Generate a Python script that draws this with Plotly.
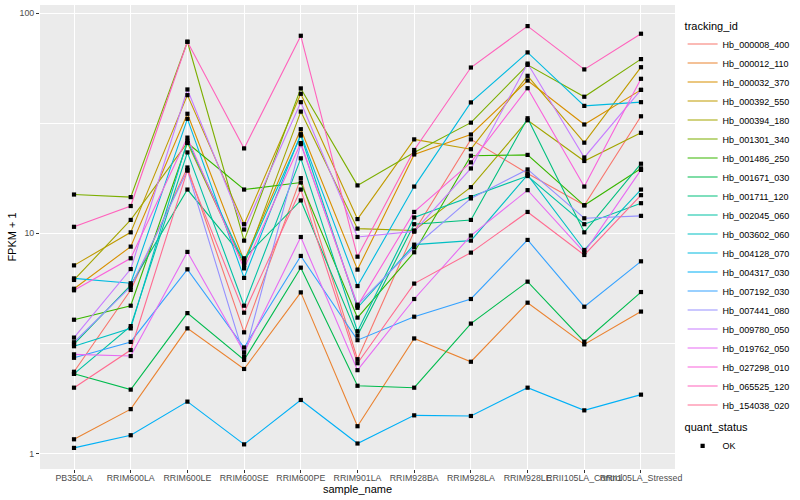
import math
import plotly.graph_objects as go

sample_names = ["PB350LA", "RRIM600LA", "RRIM600LE", "RRIM600SE", "RRIM600PE",
                "RRIM901LA", "RRIM928BA", "RRIM928LA", "RRIM928LE",
                "RRII105LA_Control", "RRII105LA_Stressed"]

hb_000008_400 = [2.35, 5.53, 19.9, 3.55, 17.8, 2.68, 10.2, 26.7, 18.7, 13.4, 34.0]
hb_000012_110 = [1.16, 1.59, 3.70, 2.42, 5.39, 1.33, 3.33, 2.61, 4.84, 3.13, 4.41]
hb_000032_370 = [5.60, 8.70, 34.9, 7.51, 29.7, 6.84, 22.8, 28.1, 49.4, 31.2, 44.8]
hb_000392_550 = [7.15, 10.1, 42.4, 11.0, 43.0, 11.6, 26.7, 24.1, 51.9, 25.8, 56.8]
hb_000394_180 = [6.14, 11.5, 25.8, 7.18, 35.7, 10.5, 10.3, 16.2, 32.6, 21.3, 28.6]
hb_001301_340 = [15.0, 14.6, 74.1, 9.26, 45.5, 16.5, 23.3, 31.8, 58.2, 41.7, 61.8]
hb_001486_250 = [4.05, 4.69, 25.7, 15.8, 17.0, 4.14, 8.20, 22.5, 22.7, 13.4, 19.7]
hb_001671_030 = [2.30, 1.95, 4.34, 2.66, 6.98, 2.03, 1.99, 3.89, 6.03, 3.22, 5.41]
hb_001711_120 = [3.14, 5.82, 15.8, 7.70, 14.1, 3.43, 11.0, 11.5, 33.3, 10.1, 20.7]
hb_002045_060 = [2.30, 3.79, 23.3, 4.69, 21.9, 3.59, 11.8, 14.6, 18.2, 11.0, 13.7]
hb_003602_060 = [3.07, 3.70, 26.3, 7.36, 27.8, 4.59, 8.88, 9.26, 18.4, 8.40, 15.8]
hb_004128_070 = [6.24, 5.93, 33.1, 6.27, 28.2, 5.76, 16.3, 39.3, 66.3, 37.9, 39.4]
hb_004317_030 = [1.06, 1.21, 1.72, 1.10, 1.75, 1.11, 1.49, 1.48, 1.99, 1.57, 1.85]
hb_007192_030 = [2.72, 3.21, 6.86, 3.03, 7.89, 3.27, 4.18, 5.03, 9.33, 4.64, 7.46]
hb_007441_080 = [3.20, 5.72, 19.3, 2.76, 25.4, 4.74, 8.64, 14.4, 19.5, 11.7, 12.0]
hb_009780_050 = [3.36, 6.88, 45.0, 10.4, 39.4, 9.62, 10.2, 19.7, 59.0, 22.1, 44.8]
hb_019762_050 = [2.82, 2.77, 8.23, 2.88, 9.62, 2.39, 5.03, 9.76, 15.7, 8.20, 19.4]
hb_027298_010 = [5.51, 7.70, 27.2, 6.93, 25.7, 4.68, 12.5, 21.0, 45.6, 16.3, 50.3]
hb_065525_120 = [10.7, 13.3, 74.1, 24.3, 78.9, 7.83, 23.9, 56.6, 87.3, 55.5, 80.6]
hb_154038_020 = [1.99, 2.95, 19.3, 4.36, 15.8, 2.57, 5.91, 8.17, 12.5, 7.97, 14.9]

tracking_ids = ["Hb_000008_400", "Hb_000012_110", "Hb_000032_370", "Hb_000392_550",
                "Hb_000394_180", "Hb_001301_340", "Hb_001486_250", "Hb_001671_030",
                "Hb_001711_120", "Hb_002045_060", "Hb_003602_060", "Hb_004128_070",
                "Hb_004317_030", "Hb_007192_030", "Hb_007441_080", "Hb_009780_050",
                "Hb_019762_050", "Hb_027298_010", "Hb_065525_120", "Hb_154038_020"]

series_values = [hb_000008_400, hb_000012_110, hb_000032_370, hb_000392_550,
                 hb_000394_180, hb_001301_340, hb_001486_250, hb_001671_030,
                 hb_001711_120, hb_002045_060, hb_003602_060, hb_004128_070,
                 hb_004317_030, hb_007192_030, hb_007441_080, hb_009780_050,
                 hb_019762_050, hb_027298_010, hb_065525_120, hb_154038_020]

quant_status = "OK"
y_tick_values = [1, 10, 100]

colors = ["#F8766D", "#EA8331", "#D89000", "#C09B00", "#A3A500", "#7CAE00", "#39B600",
          "#00BB4E", "#00BF7D", "#00C1A3", "#00BFC4", "#00BAE0", "#00B0F6", "#35A2FF",
          "#9590FF", "#C77CFF", "#E76BF3", "#FA62DB", "#FF62BC", "#FF6C91"]

FONT = "Liberation Sans, Arial, sans-serif"

fig = go.Figure()
for name, vals, col in zip(tracking_ids, series_values, colors):
    fig.add_trace(go.Scatter(
        x=sample_names, y=vals, mode="lines", name=name,
        line=dict(color=col, width=1.1), legend="legend"))

all_x = [s for vals in series_values for s in sample_names]
all_y = [v for vals in series_values for v in vals]
fig.add_trace(go.Scatter(
    x=all_x, y=all_y, mode="markers", name=quant_status,
    marker=dict(symbol="square", size=4.2, color="black"),
    legend="legend2"))

lo = math.log10(min(all_y))
hi = math.log10(max(all_y))
pad = 0.05 * (hi - lo)

fig.update_layout(
    width=800, height=500,
    margin=dict(l=40, r=117, t=5, b=31),
    paper_bgcolor="white", plot_bgcolor="#EBEBEB",
    font=dict(family=FONT, size=11, color="black"),
    showlegend=True,
    legend=dict(
        title=dict(text="tracking_id", font=dict(size=11, color="black")),
        x=1.012, xanchor="left", y=0.978, yanchor="top",
        font=dict(size=9, color="black"), bgcolor="rgba(0,0,0,0)",
        itemwidth=30, tracegroupgap=0),
    legend2=dict(
        title=dict(text="quant_status", font=dict(size=11, color="black")),
        x=1.012, xanchor="left", y=0.112, yanchor="top",
        font=dict(size=9, color="black"), bgcolor="rgba(0,0,0,0)",
        itemwidth=30),
)

fig.update_xaxes(
    type="category", categoryorder="array", categoryarray=sample_names,
    range=[-0.6, len(sample_names) - 0.4],
    showgrid=True, gridcolor="white", gridwidth=1.1,
    ticks="outside", ticklen=3, tickcolor="#333333", tickwidth=1,
    ticklabelstandoff=-3,
    tickangle=0, tickfont=dict(size=8.8, color="#4D4D4D"),
    title=dict(text="sample_name", font=dict(size=11), standoff=0),
    zeroline=False, showline=False)

fig.update_yaxes(
    type="log", range=[lo - pad, hi + pad],
    tickmode="array", tickvals=y_tick_values, ticktext=[str(v) for v in y_tick_values],
    showgrid=True, gridcolor="white", gridwidth=1.1,
    minor=dict(tickmode="array", tickvals=[10 ** 0.5, 10 ** 1.5], showgrid=True,
               gridcolor="white", gridwidth=0.55, ticks=""),
    ticks="outside", ticklen=3, tickcolor="#333333", tickwidth=1,
    tickfont=dict(size=8.8, color="#4D4D4D"),
    title=dict(text="FPKM + 1", font=dict(size=11), standoff=0),
    zeroline=False, showline=False)

fig.write_html("out.html", config={"displayModeBar": False},
               post_script="document.body.style.margin='0';document.body.style.padding='0';")
